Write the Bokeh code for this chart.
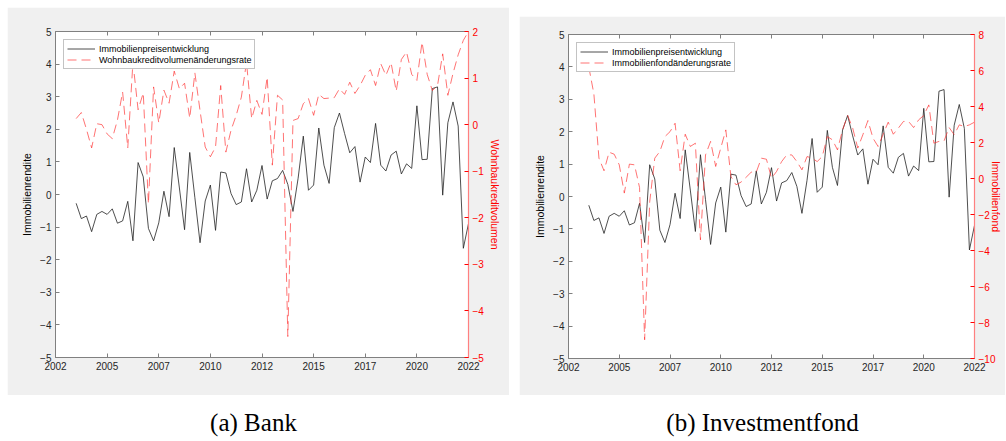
import numpy as np
from bokeh.plotting import figure
from bokeh.models import Range1d, LinearAxis, FixedTicker, Legend, LegendItem, Spacer
from bokeh.layouts import row, column
from bokeh.embed import file_html
from bokeh.resources import INLINE
from bokeh.core.properties import value

# ---------------- data ----------------
rendite = [-0.27, -0.74, -0.66, -1.14, -0.61, -0.52, -0.61, -0.44, -0.88, -0.81,
           -0.21, -1.42, 0.98, 0.54, -1.04, -1.42, -0.87, 0.10, -0.68, 1.44,
           0.20, -1.08, 1.29, -0.10, -1.48, -0.20, 0.29, -1.10, 0.69, 0.66,
           0.03, -0.31, -0.23, 0.79, -0.23, 0.13, 0.89, -0.14, 0.42, 0.49,
           0.74, 0.31, -0.52, 0.50, 1.79, 0.13, 0.29, 2.04, 0.90, 0.34,
           2.05, 2.50, 1.87, 1.28, 1.47, 0.38, 1.15, 0.98, 2.18, 0.90,
           0.72, 1.21, 1.33, 0.63, 0.94, 0.80, 2.72, 1.07, 1.08, 3.25,
           3.30, -0.02, 2.20, 2.84, 2.10, -1.65, -0.89]

kredit = [0.13, 0.26, -0.10, -0.50, 0.02, 0.00, -0.20, -0.30, 0.10, 0.70,
          -0.50, 1.34, 0.32, 0.68, -1.70, 0.81, 0.04, 0.74, 0.46, 1.15,
          0.77, 0.89, 0.14, 1.11, 0.30, -0.48, -0.69, -0.48, 0.84, -0.59,
          -0.12, 0.20, 0.59, 1.34, 0.13, 0.52, 0.22, 1.02, -0.87, 0.63,
          0.53, -4.55, 0.09, 0.13, 0.45, 0.56, 0.20, 0.65, 0.56, 0.57,
          0.58, 0.77, 0.65, 0.91, 0.67, 0.84, 1.06, 1.18, 0.84, 1.31,
          1.06, 1.33, 0.72, 1.40, 1.56, 1.08, 0.95, 1.77, 1.08, 0.73,
          0.84, 1.52, 0.63, 1.10, 1.50, 1.81, 2.00]

fond = [6.20, 4.70, 1.13, 0.43, 1.46, 1.35, 0.76, -0.81, 0.80, 0.76,
        -0.50, -8.96, -1.30, 1.13, 1.50, 2.33, 2.60, 3.07, 0.43, 2.46,
        1.78, 1.96, -3.41, 1.31, 2.06, 0.67, 1.69, 2.70, 0.11, -0.35,
        -0.20, 0.07, 0.35, 0.35, 1.13, 1.07, 0.02, 0.39, 0.94, 1.31,
        1.31, 0.94, 0.48, 1.22, 1.13, 0.94, 1.22, 2.33, 2.15, 1.59,
        2.70, 3.50, 2.80, 1.69, 2.43, 3.22, 2.24, 1.78, 2.46, 3.13,
        2.46, 2.80, 3.17, 3.17, 2.83, 3.26, 3.50, 4.09, 1.96, 2.06,
        2.09, 2.83, 2.43, 2.98, 2.89, 2.98, 3.13]

quarters = 2003.5 + 0.25 * np.arange(len(rendite))

xtick_pos = [2002.5, 2005, 2007.5, 2010, 2012.5, 2015, 2017.5, 2020, 2022.5]
xtick_labels = ["2002", "2005", "2007", "2010", "2012", "2015", "2017", "2020", "2022"]
ytick_left = [-5, -4, -3, -2, -1, 0, 1, 2, 3, 4, 5]
ytick_kredit = [-5, -4, -3, -2, -1, 0, 1, 2]
ytick_fond = [-10, -8, -6, -4, -2, 0, 2, 4, 6, 8]

captions = ["(a) Bank", "(b) Investmentfond"]

FONT = "Liberation Sans"
TICK_SIZE = "10px"
GREY_BG = "#f0f0f0"
AX_COL = "#808080"
TXT_COL = "#262626"
RED = "#ff0000"


def make_panel(width, height, ml, mr, mt, mb, red_vals, red_range, red_ticks,
               red_axis_label, red_legend, red_standoff):
    p = figure(width=width, height=height, output_backend="svg", toolbar_location=None,
               x_range=Range1d(2002.5, 2022.5), y_range=Range1d(-5, 5),
               min_border_left=ml, min_border_right=mr, min_border_top=mt,
               min_border_bottom=mb, border_fill_color=GREY_BG,
               background_fill_color="white")
    p.extra_y_ranges = {"red": Range1d(*red_range)}
    p.xgrid.visible = False
    p.ygrid.visible = False
    p.outline_line_color = AX_COL
    p.outline_line_width = 1

    xa = p.xaxis[0]
    xa.ticker = FixedTicker(ticks=xtick_pos)
    xa.major_label_overrides = dict(zip(xtick_pos, xtick_labels))
    xa.major_tick_in = 4
    xa.major_tick_out = 0
    xa.minor_tick_line_color = None
    xa.axis_line_color = AX_COL
    xa.major_tick_line_color = AX_COL
    xa.major_label_text_font = FONT
    xa.major_label_text_font_size = TICK_SIZE
    xa.major_label_text_color = TXT_COL
    xa.major_label_standoff = 4

    ya = p.yaxis[0]
    ya.ticker = FixedTicker(ticks=ytick_left)
    ya.major_tick_in = 4
    ya.major_tick_out = 0
    ya.minor_tick_line_color = None
    ya.axis_line_color = AX_COL
    ya.major_tick_line_color = AX_COL
    ya.major_label_text_font = FONT
    ya.major_label_text_font_size = TICK_SIZE
    ya.major_label_text_color = TXT_COL
    ya.major_label_standoff = 4
    ya.axis_label = "Immobilienrendite"
    ya.axis_label_text_font = FONT
    ya.axis_label_text_font_size = "10.5px"
    ya.axis_label_text_font_style = "normal"
    ya.axis_label_text_color = "#000000"
    ya.axis_label_standoff = 4

    ra = LinearAxis(y_range_name="red", ticker=FixedTicker(ticks=red_ticks))
    ra.major_tick_in = 4
    ra.major_tick_out = 0
    ra.minor_tick_line_color = None
    ra.axis_line_color = "#ff8080"
    ra.axis_line_width = 1.2
    ra.major_tick_line_color = RED
    ra.major_label_text_font = FONT
    ra.major_label_text_font_size = TICK_SIZE
    ra.major_label_text_color = RED
    ra.major_label_standoff = 4
    ra.axis_label = red_axis_label
    ra.axis_label_text_font = FONT
    ra.axis_label_text_font_size = "10.5px"
    ra.axis_label_text_font_style = "normal"
    ra.axis_label_text_color = RED
    ra.axis_label_standoff = red_standoff
    p.add_layout(ra, "right")

    ta = LinearAxis(ticker=FixedTicker(ticks=xtick_pos))
    ta.major_tick_in = 4
    ta.major_tick_out = 0
    ta.minor_tick_line_color = None
    ta.axis_line_color = None
    ta.major_tick_line_color = AX_COL
    ta.major_label_text_color = None
    p.add_layout(ta, "above")

    r1 = p.line(quarters, rendite, line_color="#222222", line_width=0.8)
    r2 = p.line(quarters, red_vals, y_range_name="red", line_color="#ff3030",
                line_width=0.8, line_alpha=0.85, line_dash="9 5")

    leg = Legend(items=[LegendItem(label="Immobilienpreisentwicklung", renderers=[r1]),
                        LegendItem(label=red_legend, renderers=[r2])],
                 location="top_left", margin=8, padding=3, spacing=0,
                 label_height=11, glyph_height=11, glyph_width=28,
                 label_standoff=4, label_text_font=FONT,
                 label_text_font_size="9px", label_text_color="#000000",
                 border_line_color="#888888", border_line_width=1,
                 background_fill_color="white", background_fill_alpha=1.0)
    p.add_layout(leg)
    return p


pa = make_panel(502, 388, 48, 41, 24, 38, kredit, (-5, 2), ytick_kredit,
                "Wohnbaukreditvolumen", "Wohnbaukreditvolumenänderungsrate", 2)
pb = make_panel(486, 379, 49, 29, 18, 37, fond, (-10, 8), ytick_fond,
                "Immobilienfond", "Immobilienfondänderungsrate", -8)

cap = figure(width=1006, height=46, output_backend="svg", toolbar_location=None,
             x_range=Range1d(0, 1006), y_range=Range1d(0, 46), min_border=0,
             border_fill_color="white", background_fill_color="white")
cap.axis.visible = False
cap.grid.visible = False
cap.outline_line_color = None
cap.text(x=[253, 762], y=[19, 19], text=captions, text_font=value("Liberation Serif"),
         text_font_size="25px", text_align="center", text_baseline="middle",
         text_color="#000000")

top = row(Spacer(width=7, height=395),
          column(Spacer(width=502, height=7), pa),
          Spacer(width=10, height=395),
          column(Spacer(width=486, height=16), pb))
layout = column(top, cap)

open("out.html", "w").write(file_html(layout, INLINE))
